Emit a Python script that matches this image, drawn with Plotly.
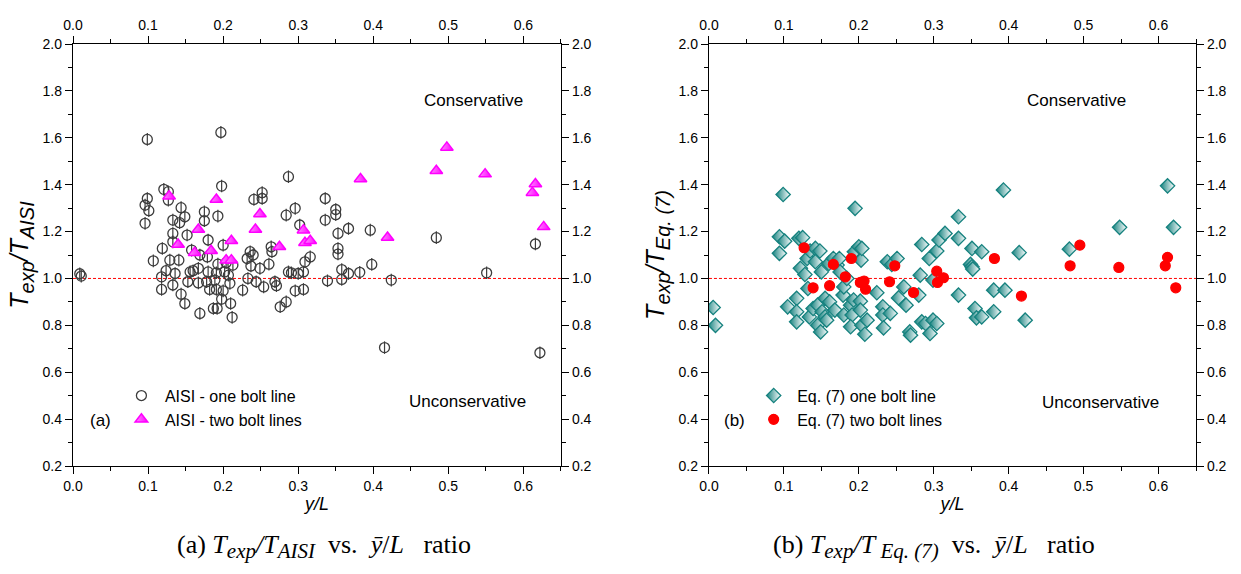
import plotly.graph_objects as go

# ---- (a) AISI predictions ----
aisi_one_x = [0.009, 0.011, 0.099, 0.197, 0.099, 0.096, 0.101, 0.096, 0.121, 0.127, 0.127,
              0.144, 0.133, 0.142, 0.149, 0.133, 0.133, 0.152, 0.119, 0.107, 0.129, 0.141,
              0.124, 0.118, 0.118, 0.133, 0.144, 0.149, 0.156, 0.158, 0.175, 0.175, 0.180,
              0.193, 0.198, 0.200, 0.193, 0.204, 0.213, 0.169, 0.187, 0.192, 0.212, 0.198,
              0.210, 0.182, 0.191, 0.200, 0.167, 0.178, 0.189, 0.209, 0.160, 0.167, 0.180,
              0.191, 0.202, 0.207, 0.153, 0.226, 0.232, 0.236, 0.240, 0.237, 0.249, 0.233,
              0.244, 0.254, 0.261, 0.241, 0.252, 0.252, 0.264, 0.265, 0.269, 0.271, 0.276,
              0.284, 0.287, 0.284, 0.296, 0.302, 0.287, 0.291, 0.300, 0.296, 0.307, 0.309,
              0.307, 0.316, 0.336, 0.336, 0.350, 0.350, 0.353, 0.367, 0.353, 0.353, 0.358,
              0.367, 0.358, 0.382, 0.339, 0.396, 0.398, 0.424, 0.484, 0.551, 0.616, 0.415,
              0.622, 0.136, 0.169, 0.179]
aisi_one_y = [1.020, 1.010, 1.593, 1.623, 1.341, 1.313, 1.289, 1.235, 1.380, 1.370, 1.334,
              1.302, 1.249, 1.238, 1.263, 1.192, 1.156, 1.185, 1.128, 1.075, 1.078, 1.078,
              1.033, 1.007, 0.953, 0.972, 0.933, 0.893, 1.028, 1.121, 1.284, 1.246, 1.164,
              1.266, 1.394, 1.142, 1.061, 1.067, 1.057, 0.851, 0.872, 0.872, 0.834, 0.912,
              0.893, 0.953, 0.953, 0.947, 0.981, 0.986, 0.993, 0.979, 1.033, 1.043, 1.028,
              1.024, 1.028, 1.014, 0.986, 0.950, 1.085, 1.114, 1.100, 1.053, 1.043, 1.000,
              0.986, 0.964, 1.061, 1.337, 1.366, 1.341, 1.135, 1.114, 0.986, 0.969, 0.879,
              0.900, 1.434, 1.270, 1.299, 1.228, 1.028, 1.024, 1.021, 0.947, 0.953, 1.071,
              1.028, 1.092, 1.341, 1.249, 1.294, 1.272, 1.192, 1.213, 1.128, 1.104, 1.038,
              1.021, 0.996, 1.026, 0.990, 1.206, 1.060, 0.993, 1.174, 1.024, 1.147, 0.705,
              0.683, 1.021, 1.100, 1.092]

aisi_two_x = [0.128, 0.140, 0.162, 0.167, 0.184, 0.191, 0.204, 0.211, 0.211, 0.243, 0.249,
              0.275, 0.307, 0.309, 0.316, 0.383, 0.419, 0.484, 0.498, 0.549, 0.612, 0.616,
              0.627]
aisi_two_y = [1.351, 1.145, 1.110, 1.209, 1.118, 1.337, 1.078, 1.078, 1.161, 1.209, 1.275,
              1.135, 1.206, 1.152, 1.161, 1.424, 1.175, 1.459, 1.559, 1.445, 1.366, 1.403,
              1.220]

# ---- (b) Eq. (7) predictions ----
eq_one_x = [0.0056, 0.0087, 0.099, 0.094, 0.101, 0.094, 0.105, 0.117, 0.117, 0.117, 0.120,
            0.125, 0.122, 0.128, 0.131, 0.132, 0.135, 0.142, 0.148, 0.142, 0.150, 0.134,
            0.139, 0.145, 0.145, 0.149, 0.151, 0.155, 0.155, 0.157, 0.161, 0.160, 0.166,
            0.171, 0.174, 0.175, 0.179, 0.180, 0.184, 0.168, 0.180, 0.189, 0.191, 0.189,
            0.193, 0.194, 0.195, 0.200, 0.203, 0.204, 0.202, 0.202, 0.204, 0.208, 0.211,
            0.224, 0.232, 0.232, 0.233, 0.238, 0.242, 0.244, 0.251, 0.253, 0.260, 0.263,
            0.268, 0.269, 0.280, 0.282, 0.284, 0.284, 0.289, 0.294, 0.295, 0.299, 0.304,
            0.299, 0.304, 0.307, 0.315, 0.333, 0.333, 0.333, 0.351, 0.364, 0.349, 0.351,
            0.352, 0.380, 0.395, 0.355, 0.357, 0.364, 0.380, 0.393, 0.414, 0.422, 0.481,
            0.548, 0.612, 0.620]
eq_one_y = [0.876, 0.800, 1.358, 1.178, 1.159, 1.107, 0.879, 0.915, 0.858, 0.815, 1.171,
            1.174, 1.043, 1.017, 1.085, 0.957, 1.117, 1.128, 1.117, 1.071, 1.028, 0.836,
            0.872, 0.800, 0.886, 0.772, 0.858, 0.836, 0.915, 0.822, 0.900, 1.064, 1.085,
            1.057, 1.085, 1.028, 0.929, 0.964, 1.000, 0.865, 0.844, 0.886, 0.844, 0.794,
            0.908, 1.114, 1.299, 1.135, 1.078, 1.128, 0.903, 0.865, 0.800, 0.762, 0.822,
            0.939, 0.879, 0.844, 0.789, 1.071, 0.851, 1.060, 1.085, 0.917, 0.964, 0.886,
            0.772, 0.758, 0.929, 1.014, 1.145, 0.815, 0.808, 1.085, 0.765, 0.822, 0.808,
            0.993, 1.117, 1.164, 1.192, 1.263, 1.171, 0.929, 1.128, 1.114, 1.060, 1.050,
            1.040, 0.950, 0.950, 0.872, 0.832, 0.836, 0.858, 1.377, 1.110, 0.822, 1.125,
            1.218, 1.395, 1.218]

eq_two_x = [0.127, 0.139, 0.161, 0.166, 0.182, 0.190, 0.202, 0.207, 0.209, 0.241, 0.248,
            0.273, 0.304, 0.305, 0.313, 0.381, 0.417, 0.482, 0.495, 0.547, 0.609, 0.612,
            0.623]
eq_two_y = [1.131, 0.960, 0.969, 1.060, 1.007, 1.085, 0.983, 0.989, 0.954, 0.986, 1.054,
            0.940, 1.031, 0.983, 1.003, 1.085, 0.925, 1.054, 1.142, 1.047, 1.054, 1.090,
            0.960]

x_ticks = [0.0, 0.1, 0.2, 0.3, 0.4, 0.5, 0.6]
y_ticks = [0.2, 0.4, 0.6, 0.8, 1.0, 1.2, 1.4, 1.6, 1.8, 2.0]

SANS = "Liberation Sans, Arial, sans-serif"
SERIF = "Liberation Serif, Times New Roman, serif"
GRAY = "#3c3c3c"
TEAL = "#16827f"

fig = go.Figure()

# (a) one bolt line: open circle with a vertical stroke
fig.add_trace(go.Scatter(
    x=aisi_one_x, y=aisi_one_y, mode="markers", name="AISI - one bolt line",
    xaxis="x", yaxis="y", legend="legend",
    marker=dict(symbol="circle-open", size=10, color=GRAY, line=dict(width=1.3))))
fig.add_trace(go.Scatter(
    x=aisi_one_x, y=aisi_one_y, mode="markers", showlegend=False, hoverinfo="skip",
    xaxis="x", yaxis="y",
    marker=dict(symbol="line-ns-open", size=9, color=GRAY, line=dict(width=1.2))))
# (a) two bolt lines: half-shaded triangle (shaded left, light right)
fig.add_trace(go.Scatter(
    x=aisi_two_x, y=aisi_two_y, mode="markers", name="AISI - two bolt lines",
    xaxis="x", yaxis="y", legend="legend",
    marker=dict(symbol="triangle-up", size=11, color="#ff8cff",
                line=dict(width=1.5, color="#ff00ff"),
                gradient=dict(type="horizontal", color="#ff00ff"))))

# (b) one bolt line: half-shaded diamond (white left, shaded right)
fig.add_trace(go.Scatter(
    x=eq_one_x, y=eq_one_y, mode="markers", name="Eq. (7) one bolt line",
    xaxis="x2", yaxis="y2", legend="legend2",
    marker=dict(symbol="diamond", size=11, color=TEAL,
                line=dict(width=1.3, color=TEAL),
                gradient=dict(type="horizontal", color="#ffffff"))))
# (b) two bolt lines: red circle
fig.add_trace(go.Scatter(
    x=eq_two_x, y=eq_two_y, mode="markers", name="Eq. (7) two bolt lines",
    xaxis="x2", yaxis="y2", legend="legend2",
    marker=dict(symbol="circle", size=10, color="#ff0000",
                line=dict(width=1.2, color="#ff0000"))))

# empty traces so the mirrored top/right axes get drawn
for xa, ya in (("x3", "y"), ("x", "y3"), ("x4", "y2"), ("x2", "y4")):
    fig.add_trace(go.Scatter(x=[None], y=[None], mode="markers", xaxis=xa, yaxis=ya,
                             showlegend=False, hoverinfo="skip"))

axis_common = dict(
    showline=True, linecolor="black", linewidth=1.3, mirror=False,
    ticks="outside", ticklen=7, tickwidth=1.2, tickcolor="black",
    showgrid=False, zeroline=False,
    tickfont=dict(family=SANS, size=14, color="black"),
)
x_common = dict(axis_common, range=[0, 0.65], tickvals=x_ticks, tickformat=".1f",
                minor=dict(dtick=0.05, tick0=0, ticks="outside", ticklen=4,
                           tickwidth=1.2, tickcolor="black"))
y_common = dict(axis_common, range=[0.2, 2.0], tickvals=y_ticks, tickformat=".1f",
                minor=dict(dtick=0.1, tick0=0, ticks="outside", ticklen=4,
                           tickwidth=1.2, tickcolor="black"))

xtitle = dict(text="<i>y/L</i>", font=dict(family=SANS, size=18, color="black"), standoff=1)
SUB = "<sub><span style='font-size:20px'><i>{}</i></span></sub>"

fig.update_layout(
    width=1241, height=574,
    margin=dict(l=73, r=45, t=44, b=108),
    paper_bgcolor="white", plot_bgcolor="white",
    xaxis=dict(x_common, domain=[0, 0.4345], anchor="y", title=xtitle),
    yaxis=dict(y_common, domain=[0, 1], anchor="x",
               title=dict(text="<i>T</i>" + SUB.format("exp") + "<i>/T</i>" + SUB.format("AISI"),
                          font=dict(family=SANS, size=25, color="black"), standoff=6)),
    xaxis3=dict(x_common, overlaying="x", side="top", anchor="y"),
    yaxis3=dict(y_common, overlaying="y", side="right", anchor="x"),
    xaxis2=dict(x_common, domain=[0.5663, 1], anchor="y2", title=xtitle),
    yaxis2=dict(y_common, domain=[0, 1], anchor="x2",
                title=dict(text="<i>T</i>" + SUB.format("exp") + "<i>/T</i>" + SUB.format("Eq. (7)"),
                           font=dict(family=SANS, size=25, color="black"), standoff=6)),
    xaxis4=dict(x_common, overlaying="x2", side="top", anchor="y2"),
    yaxis4=dict(y_common, overlaying="y2", side="right", anchor="x2"),
    legend=dict(x=0.04, y=0.207, xanchor="left", yanchor="top", itemwidth=37,
                bgcolor="rgba(0,0,0,0)", borderwidth=0,
                font=dict(family=SANS, size=16, color="black"), tracegroupgap=0),
    legend2=dict(x=0.603, y=0.207, xanchor="left", yanchor="top", itemwidth=37,
                 bgcolor="rgba(0,0,0,0)", borderwidth=0,
                 font=dict(family=SANS, size=16, color="black"), tracegroupgap=0),
    showlegend=True,
)

# reference line T_exp/T_pred = 1
for xr, yr in (("x", "y"), ("x2", "y2")):
    fig.add_shape(type="line", xref=f"{xr} domain", yref=yr, x0=0, x1=1, y0=1.0, y1=1.0,
                  line=dict(color="red", width=1, dash="3px,2px"), layer="below")

ann_font = dict(family=SANS, size=17, color="black")
notes = [
    ("x", "y", 0.533, 1.76, "Conservative"),
    ("x", "y", 0.525, 0.477, "Unconservative"),
    ("x2", "y2", 0.49, 1.76, "Conservative"),
    ("x2", "y2", 0.522, 0.47, "Unconservative"),
    ("x", "y", 0.037, 0.396, "(a)"),
    ("x2", "y2", 0.034, 0.396, "(b)"),
]
for xr, yr, xv, yv, txt in notes:
    fig.add_annotation(xref=xr, yref=yr, x=xv, y=yv, text=txt, showarrow=False,
                       font=ann_font, xanchor="center", yanchor="middle")

# panel captions
cap_font = dict(family=SERIF, size=26, color="black")
CSUB = "<sub><span style='font-size:21px'>{}</span></sub>"
fig.add_annotation(xref="paper", yref="paper", x=0.2235, y=-0.19,
                   xanchor="center", yanchor="middle",
                   text="(a) <i>T" + CSUB.format("exp") + "/T" + CSUB.format("AISI")
                        + "</i>  vs.  <i>ȳ</i>/<i>L</i>   ratio",
                   showarrow=False, font=cap_font)
fig.add_annotation(xref="paper", yref="paper", x=0.7667, y=-0.19,
                   xanchor="center", yanchor="middle",
                   text="(b) <i>T" + CSUB.format("exp") + "/T" + CSUB.format(" Eq. (7)")
                        + "</i>  vs.  <i>ȳ</i>/<i>L</i>   ratio",
                   showarrow=False, font=cap_font)

fig.write_html("out.html")
